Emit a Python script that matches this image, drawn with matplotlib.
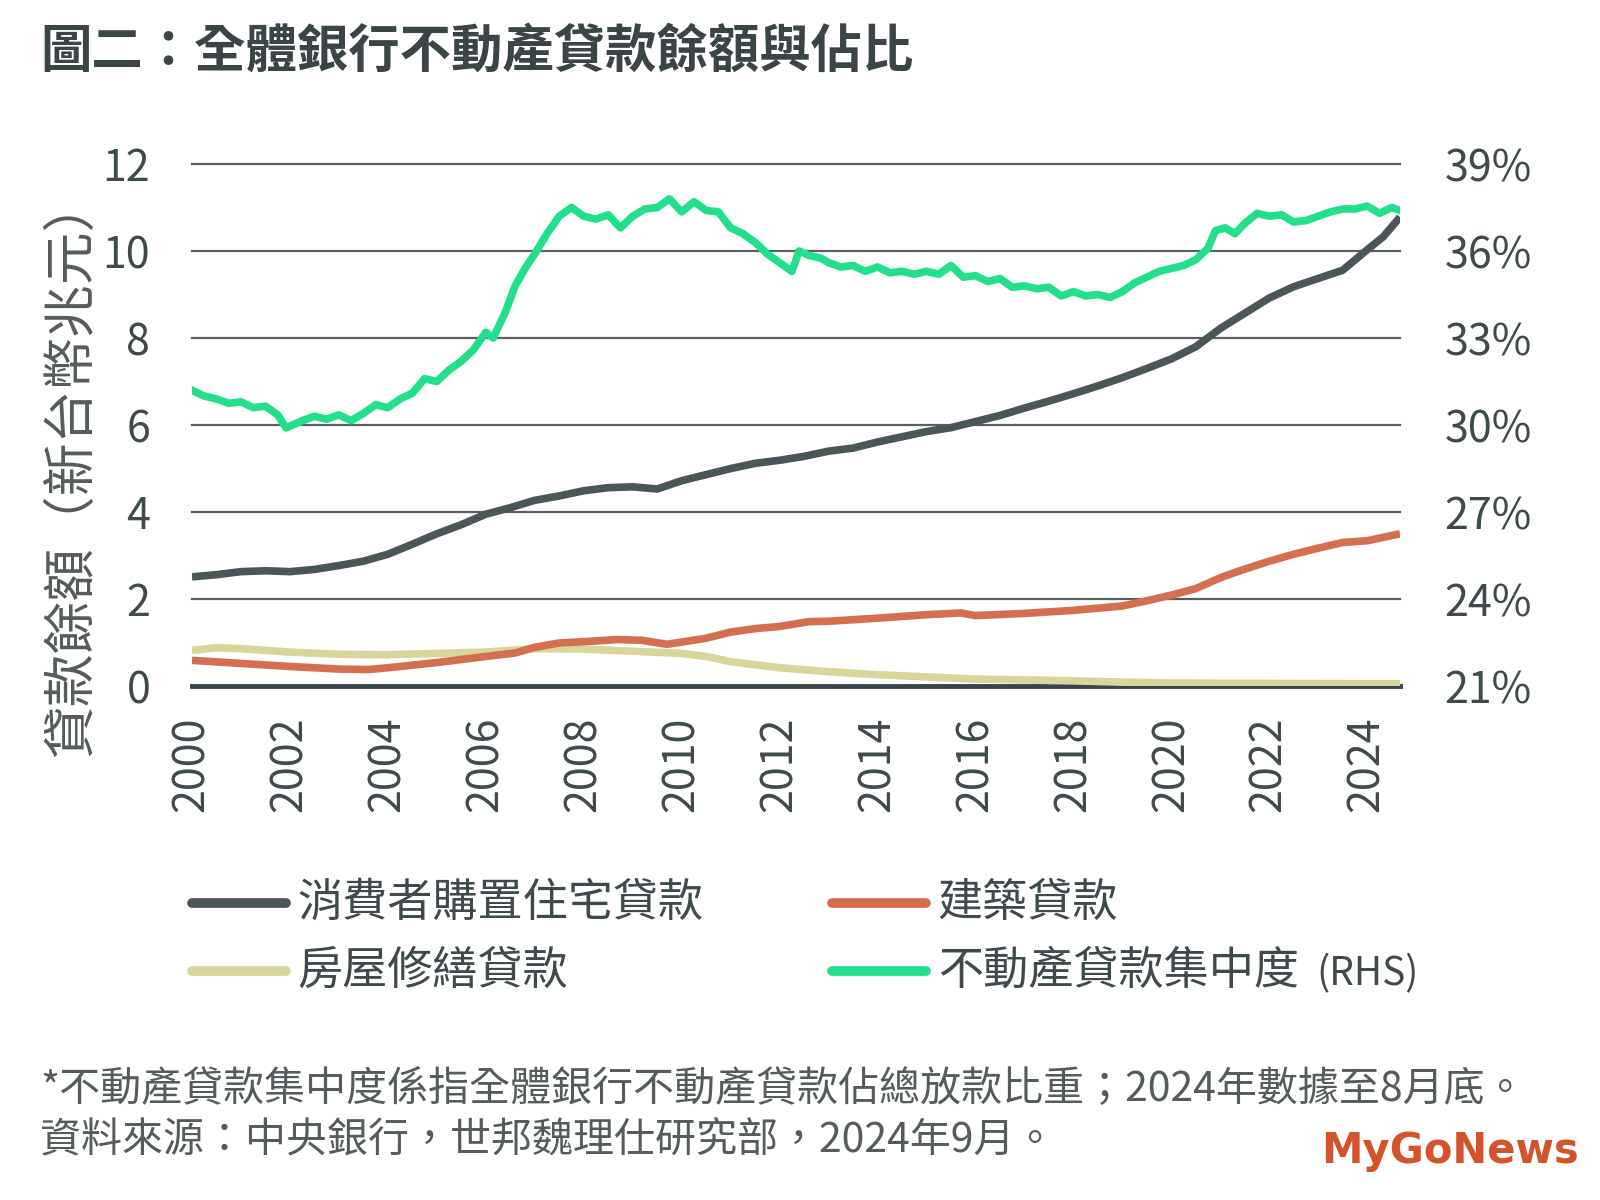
import numpy as np
import matplotlib
matplotlib.use('Agg')
import matplotlib.pyplot as plt
from matplotlib.lines import Line2D

plt.rcParams['font.family'] = ['Noto Sans CJK TC', 'DejaVu Sans']

# 消費者購置住宅貸款 (兆元)
home_year = [2000, 2000.5, 2001, 2001.5, 2002, 2002.5, 2003, 2003.5, 2004, 2004.5,
             2005, 2005.5, 2006, 2006.5, 2007, 2007.5, 2008, 2008.5, 2009, 2009.5,
             2010, 2010.5, 2011, 2011.5, 2012, 2012.5, 2013, 2013.5, 2014, 2014.5,
             2015, 2015.5, 2016, 2016.5, 2017, 2017.5, 2018, 2018.5, 2019, 2019.5,
             2020, 2020.5, 2021, 2021.5, 2022, 2022.5, 2023, 2023.5, 2024, 2024.33, 2024.67]
home_val = [2.51, 2.56, 2.63, 2.65, 2.63, 2.68, 2.77, 2.87, 3.03, 3.26,
            3.5, 3.71, 3.95, 4.1, 4.27, 4.37, 4.49, 4.56, 4.58, 4.53,
            4.72, 4.86, 5.0, 5.12, 5.19, 5.28, 5.4, 5.47, 5.61, 5.73,
            5.85, 5.94, 6.08, 6.22, 6.39, 6.55, 6.72, 6.9, 7.09, 7.3,
            7.52, 7.8, 8.22, 8.57, 8.92, 9.18, 9.37, 9.56, 10.03, 10.33, 10.78]

# 建築貸款
cons_year = [2000, 2001, 2002, 2003, 2003.6, 2004, 2005, 2006, 2006.6, 2007, 2007.5,
             2008, 2008.7, 2009.2, 2009.7, 2010, 2010.5, 2011, 2011.5, 2012, 2012.6,
             2013, 2014, 2015, 2015.7, 2016, 2017, 2018, 2019, 2019.5, 2020,
             2020.5, 2021, 2021.4, 2022, 2022.5, 2023, 2023.5, 2024, 2024.67]
cons_val = [0.59, 0.52, 0.45, 0.39, 0.38, 0.42, 0.54, 0.68, 0.76, 0.89, 0.99,
            1.02, 1.07, 1.05, 0.96, 1.01, 1.1, 1.24, 1.32, 1.37, 1.48,
            1.49, 1.56, 1.64, 1.68, 1.62, 1.67, 1.74, 1.84, 1.96, 2.09,
            2.24, 2.49, 2.65, 2.87, 3.03, 3.17, 3.3, 3.34, 3.5]

# 房屋修繕貸款
repair_year = [2000, 2000.5, 2001, 2002, 2003, 2004, 2005, 2006, 2006.5, 2007, 2008,
               2009, 2010, 2010.5, 2011, 2012, 2013, 2014, 2015, 2016, 2017,
               2018, 2019, 2020, 2022, 2024.67]
repair_val = [0.82, 0.88, 0.86, 0.78, 0.73, 0.72, 0.75, 0.78, 0.82, 0.86, 0.85,
              0.8, 0.75, 0.68, 0.56, 0.42, 0.33, 0.26, 0.21, 0.16, 0.14,
              0.12, 0.09, 0.07, 0.06, 0.05]

# 不動產貸款集中度 (%), right axis
conc_year = [2000.0, 2000.25, 2000.5, 2000.75, 2001.0, 2001.25, 2001.5, 2001.75, 2001.92, 2002.25,
             2002.5, 2002.75, 2003.0, 2003.25, 2003.5, 2003.75, 2004.0, 2004.25, 2004.5, 2004.75,
             2005.0, 2005.25, 2005.5, 2005.75, 2006.0, 2006.15, 2006.4, 2006.6, 2006.8, 2007.0,
             2007.25, 2007.5, 2007.75, 2008.0, 2008.25, 2008.5, 2008.75, 2009.0, 2009.25, 2009.5,
             2009.75, 2010.0, 2010.25, 2010.5, 2010.75, 2011.0, 2011.25, 2011.5, 2011.75, 2012.0,
             2012.25, 2012.4, 2012.6, 2012.85, 2013.0, 2013.25, 2013.5, 2013.75, 2014.0, 2014.25,
             2014.5, 2014.75, 2015.0, 2015.25, 2015.5, 2015.75, 2016.0, 2016.25, 2016.5, 2016.75,
             2017.0, 2017.25, 2017.5, 2017.75, 2018.0, 2018.25, 2018.5, 2018.75, 2019.0, 2019.25,
             2019.5, 2019.75, 2020.0, 2020.25, 2020.5, 2020.75, 2020.9, 2021.1, 2021.3, 2021.5,
             2021.75, 2022.0, 2022.25, 2022.5, 2022.75, 2023.0, 2023.25, 2023.5, 2023.75, 2024.0,
             2024.25, 2024.5, 2024.67]
conc_val = [31.2, 31.0, 30.9, 30.75, 30.8, 30.6, 30.65, 30.35, 29.9, 30.15,
            30.3, 30.2, 30.35, 30.15, 30.4, 30.7, 30.6, 30.9, 31.1, 31.6,
            31.5, 31.9, 32.2, 32.6, 33.2, 33.0, 33.9, 34.8, 35.4, 35.9,
            36.6, 37.2, 37.5, 37.2, 37.1, 37.25, 36.8, 37.2, 37.45, 37.5,
            37.8, 37.35, 37.7, 37.4, 37.35, 36.8, 36.6, 36.3, 35.9, 35.6,
            35.3, 36.0, 35.85, 35.75, 35.6, 35.45, 35.5, 35.3, 35.45, 35.25,
            35.3, 35.2, 35.3, 35.2, 35.5, 35.1, 35.15, 34.95, 35.05, 34.75,
            34.8, 34.7, 34.75, 34.45, 34.6, 34.45, 34.5, 34.4, 34.6, 34.9,
            35.1, 35.3, 35.4, 35.5, 35.7, 36.1, 36.7, 36.8, 36.6, 36.95,
            37.3, 37.2, 37.25, 37.0, 37.05, 37.2, 37.35, 37.45, 37.45, 37.55,
            37.3, 37.5, 37.4]

left_ticks = [0, 2, 4, 6, 8, 10, 12]
right_ticks = [21, 24, 27, 30, 33, 36, 39]
year_ticks = list(range(2000, 2025, 2))

C_HOME = '#4b5658'
C_CONS = '#d4704f'
C_REPAIR = '#d9d69c'
C_CONC = '#22df8c'
C_TEXT = '#3f4a4c'

fig = plt.figure(figsize=(16, 12), dpi=100)
ax = fig.add_axes([0.12, 0.4283, 0.755, 0.435])

for y in left_ticks[1:]:
    ax.axhline(y, color='#5a6062', lw=1.6, zorder=1, clip_on=False)
ax.axhline(0, color='#39444a', lw=3.5, zorder=1, clip_on=False)

ax.plot(repair_year, repair_val, color=C_REPAIR, lw=5.5, zorder=3, solid_capstyle='butt')
ax.plot(cons_year, cons_val, color=C_CONS, lw=5.5, zorder=4, solid_capstyle='butt')
ax.plot(home_year, home_val, color=C_HOME, lw=5.5, zorder=5, solid_capstyle='butt')

ax.set_xlim(2000, 2024.67)
ax.set_ylim(0, 12)
ax.set_yticks(left_ticks)
ax.set_xticks(year_ticks)
ax.set_xticklabels([str(y) for y in year_ticks], rotation=90)
ax.tick_params(axis='both', length=0, labelsize=31, colors=C_TEXT)
ax.tick_params(axis='y', pad=30)
ax.tick_params(axis='x', pad=22)
for s in ax.spines.values():
    s.set_visible(False)
ax.set_ylabel('貸款餘額（新台幣兆元）', fontsize=38, color='#555c5e')
ax.yaxis.set_label_coords(-0.077, 0.42)

ax2 = ax.twinx()
ax2.plot(conc_year, conc_val, color=C_CONC, lw=5.5, zorder=6)
ax2.set_ylim(21, 39)
ax2.set_yticks(right_ticks)
ax2.set_yticklabels([f'{t}%' for t in right_ticks])
ax2.tick_params(axis='y', length=0, labelsize=31, colors=C_TEXT, pad=32)
for s in ax2.spines.values():
    s.set_visible(False)

# title
fig.text(0.025, 0.9575, '圖二：全體銀行不動產貸款餘額與佔比', fontsize=37, fontweight='bold',
         color='#3b4547', va='center', ha='left')

# legend, drawn by hand in two columns
legend_items = [
    (C_HOME, '消費者購置住宅貸款', 0.12, 0.2475),
    (C_CONS, '建築貸款', 0.52, 0.2475),
    (C_REPAIR, '房屋修繕貸款', 0.12, 0.191),
    (C_CONC, '不動產貸款集中度', 0.52, 0.191),
]
for color, label, x0, y0 in legend_items:
    fig.add_artist(Line2D([x0, x0 + 0.059], [y0, y0], color=color, lw=7,
                          solid_capstyle='round', transform=fig.transFigure))
    fig.text(x0 + 0.066, y0, label, fontsize=32.5, color=C_TEXT, va='center', ha='left')
fig.text(0.823, 0.188, '(RHS)', fontsize=28, color=C_TEXT, va='center', ha='left')

# footnotes
fig.text(0.025, 0.0917, '*不動產貸款集中度係指全體銀行不動產貸款佔總放款比重；2024年數據至8月底。',
         fontsize=29.5, color='#555c5e', va='center', ha='left')
fig.text(0.025, 0.049, '資料來源：中央銀行，世邦魏理仕研究部，2024年9月。',
         fontsize=29.5, color='#555c5e', va='center', ha='left')

# logo
fig.text(0.987, 0.041, 'MyGoNews', fontsize=30, fontweight='bold', color='#d4532a',
         va='center', ha='right', family='DejaVu Sans')

fig.savefig('out.png', dpi=100, facecolor='white')
